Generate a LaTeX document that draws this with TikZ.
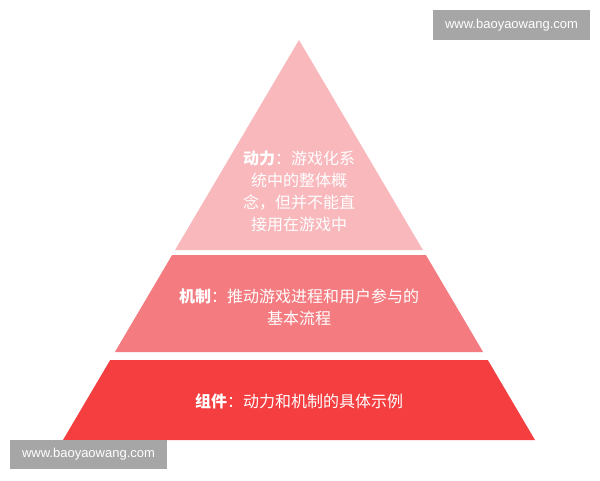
\documentclass[tikz,border=0pt]{standalone}
\usepackage{fontspec}
\setmainfont{Liberation Sans}
\newfontfamily\cjk{Noto Sans CJK SC}
\begin{document}
\begin{tikzpicture}[x=1pt,y=-1pt,
  tiertext/.style={text=white,font=\cjk\fontsize{16}{22}\selectfont,align=center,inner sep=0pt},
  wmbox/.style={fill=wmgray,draw=none},
  wmtext/.style={text=white,font=\fontsize{13}{15}\selectfont,inner sep=0pt}]
\definecolor{toptier}{RGB}{248,184,188}
\definecolor{midtier}{RGB}{244,124,128}
\definecolor{bottier}{RGB}{244,62,64}
\definecolor{wmgray}{RGB}{166,166,166}
\useasboundingbox (0,0) rectangle (600,480);
\fill[white] (0,0) rectangle (600,480);
% tiers
\fill[toptier] (299,40) -- (422.9,250) -- (175.1,250) -- cycle;
\fill[midtier] (172.1,255) -- (425.9,255) -- (483.1,352) -- (114.9,352) -- cycle;
\fill[bottier] (110.2,360) -- (487.8,360) -- (535,440) -- (63,440) -- cycle;
% texts
\node[tiertext] (dyn) at (299,191) {{\bfseries 动力}：游戏化系\\统中的整体概\\念，但并不能直\\接用在游戏中};
\node[tiertext] (mech) at (299,307) {{\bfseries 机制}：推动游戏进程和用户参与的\\基本流程};
\node[tiertext] (comp) at (299,401) {{\bfseries 组件}：动力和机制的具体示例};
% watermarks
\fill[wmbox] (433,10) rectangle (590,40);
\node[wmtext] (wm1) at (511.5,25) {www.baoyaowang.com};
\fill[wmbox] (10,440) rectangle (167,469);
\node[wmtext] (wm2) at (88.5,454.5) {www.baoyaowang.com};
\end{tikzpicture}
\end{document}
